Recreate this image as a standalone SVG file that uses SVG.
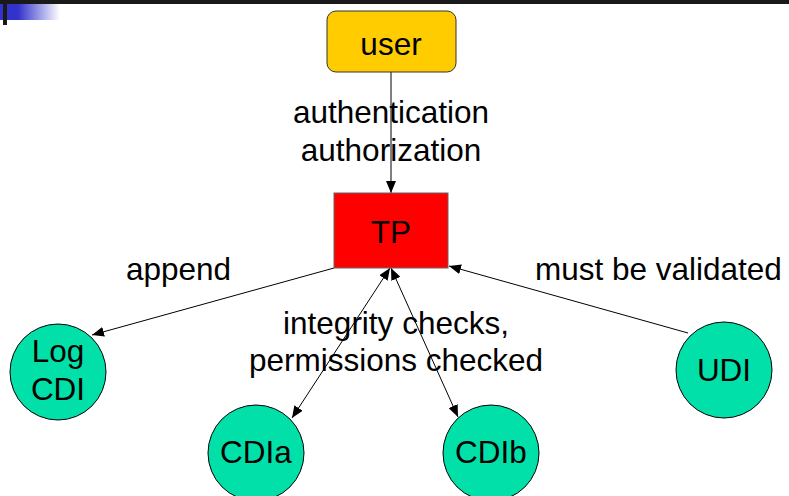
<svg xmlns="http://www.w3.org/2000/svg" width="789" height="496" viewBox="0 0 789 496">
<defs>
<linearGradient id="blueFade" x1="0" y1="0" x2="1" y2="0">
<stop offset="0" stop-color="#3333cc"/>
<stop offset="0.3" stop-color="#3333cc"/>
<stop offset="1" stop-color="#ffffff"/>
</linearGradient>
<marker id="ah" viewBox="0 0 12 10" refX="12" refY="5" markerWidth="12" markerHeight="10" markerUnits="userSpaceOnUse" orient="auto">
<path d="M0,0 L12,5 L0,10 Z" fill="#000"/>
</marker>
<marker id="ahs" viewBox="0 0 12 10" refX="12" refY="5" markerWidth="12" markerHeight="10" markerUnits="userSpaceOnUse" orient="auto-start-reverse">
<path d="M0,0 L12,5 L0,10 Z" fill="#000"/>
</marker>
</defs>
<style>
text { font-family: "Liberation Sans", Arial, sans-serif; font-size: 31.5px; fill: #000; }
.c { text-anchor: middle; }
.circ { fill: #00e0a8; stroke: #000; stroke-width: 1; }
.edge { stroke: #000; stroke-width: 1; fill: none; }
</style>
<rect x="0" y="0" width="789" height="496" fill="#fff"/>
<g id="header">
<rect x="0" y="4" width="60" height="16" fill="url(#blueFade)"/>
<rect x="0" y="0" width="789" height="4" fill="#1a1a1a"/>
<rect x="3" y="0" width="4" height="25" fill="#1a1a1a"/>
</g>
<g id="connectors">
<line class="edge" x1="391" y1="72" x2="391" y2="193" marker-end="url(#ah)" stroke="#555"/>
<line class="edge" x1="334" y1="268" x2="92" y2="335" marker-end="url(#ah)"/>
<line class="edge" x1="390" y1="268" x2="292" y2="418" marker-start="url(#ahs)" marker-end="url(#ah)"/>
<line class="edge" x1="391" y1="268" x2="458" y2="417" marker-start="url(#ahs)" marker-end="url(#ah)"/>
<line class="edge" x1="688" y1="333" x2="449" y2="266" marker-end="url(#ah)"/>
</g>
<g id="labels">
<text class="c" x="391" y="123">authentication</text>
<text class="c" x="391" y="161">authorization</text>
<text x="126" y="280">append</text>
<text x="535" y="280">must be validated</text>
<text class="c" x="396" y="334">integrity checks,</text>
<text class="c" x="396" y="371">permissions checked</text>
</g>
<g id="user">
<rect x="327" y="11" width="129" height="61" rx="9" fill="#ffcc00" stroke="#333" stroke-width="1"/>
<text class="c" x="391" y="55">user</text>
</g>
<g id="tp">
<rect x="334" y="193" width="114" height="75" fill="#ff0000" stroke="#666" stroke-width="1"/>
<text class="c" x="391" y="243">TP</text>
</g>
<g id="logcdi">
<circle class="circ" cx="58" cy="372" r="48"/>
<text class="c" x="58" y="362">Log</text>
<text class="c" x="58" y="400">CDI</text>
</g>
<g id="cdia">
<circle class="circ" cx="256" cy="453" r="48"/>
<text class="c" x="256" y="463">CDIa</text>
</g>
<g id="cdib">
<circle class="circ" cx="491" cy="453" r="48"/>
<text class="c" x="491" y="463">CDIb</text>
</g>
<g id="udi">
<circle class="circ" cx="724" cy="370" r="48"/>
<text class="c" x="724" y="381">UDI</text>
</g>
</svg>
